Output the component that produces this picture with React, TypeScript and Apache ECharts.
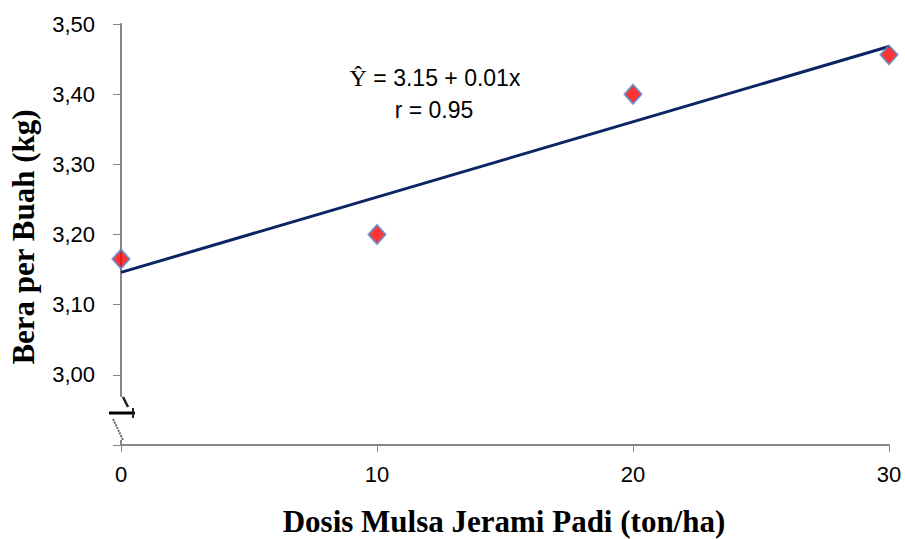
import React, { useEffect, useRef } from "react";
import * as echarts from "echarts";

const doses = [0, 10, 20, 30];
const weights = [3.165, 3.2, 3.4, 3.456];
const fitX = [0, 30];
const fitY = [3.146, 3.468];
const yTicks = [2.9, 3.0, 3.1, 3.2, 3.3, 3.4, 3.5];
const equationLines = ["= 3.15 + 0.01x", "r = 0.95"];
const xTitle = "Dosis Mulsa Jerami Padi (ton/ha)";
const yTitle = "Bera per Buah (kg)";

export default function App() {
  const ref = useRef<HTMLDivElement>(null);
  useEffect(() => {
    if (!ref.current) return;
    const chart = echarts.init(ref.current, undefined, { renderer: "svg" });
    const sans = "'Liberation Sans', Arial, sans-serif";
    const serif = "'Liberation Serif', 'Times New Roman', serif";
    chart.setOption({
      animation: false,
      backgroundColor: "#ffffff",
      grid: { left: 121, right: 16, top: 24, bottom: 94 },
      xAxis: {
        type: "value",
        min: 0,
        max: 30,
        interval: 10,
        axisLine: { lineStyle: { color: "#868686", width: 2 } },
        axisTick: { show: true, length: 7, lineStyle: { color: "#868686", width: 1 } },
        axisLabel: { color: "#000", fontFamily: sans, fontSize: 22, margin: 18 },
        splitLine: { show: false },
      },
      yAxis: {
        type: "value",
        min: yTicks[0],
        max: yTicks[yTicks.length - 1],
        interval: 0.1,
        axisLine: { show: true, lineStyle: { color: "#868686", width: 2 } },
        axisTick: { show: true, length: 8, lineStyle: { color: "#868686", width: 1 } },
        axisLabel: {
          color: "#000",
          fontFamily: sans,
          fontSize: 22,
          margin: 26,
          formatter: (v: number) => (v < 2.95 ? "" : v.toFixed(2).replace(".", ",")),
        },
        splitLine: { show: false },
      },
      series: [
        {
          type: "line",
          data: fitX.map((x, i) => [x, fitY[i]]),
          symbol: "none",
          lineStyle: { color: "#0b2463", width: 3 },
          z: 2,
        },
        {
          type: "scatter",
          data: doses.map((x, i) => [x, weights[i]]),
          symbol: "diamond",
          symbolSize: [17, 19],
          itemStyle: { color: "#ff0000", borderColor: "#5b87c6", borderWidth: 2 },
          z: 3,
        },
      ],
      graphic: [
        { type: "rect", shape: { x: 116, y: 397, width: 10, height: 43 }, style: { fill: "#fff" }, z: 100 },
        { type: "line", shape: { x1: 123, y1: 397, x2: 128, y2: 407 }, style: { stroke: "#222", lineWidth: 2.5 }, z: 101 },
        { type: "line", shape: { x1: 109, y1: 413, x2: 135, y2: 413 }, style: { stroke: "#000", lineWidth: 3 }, z: 101 },
        { type: "line", shape: { x1: 133, y1: 408, x2: 133, y2: 418 }, style: { stroke: "#222", lineWidth: 2 }, z: 101 },
        { type: "line", shape: { x1: 113, y1: 419, x2: 123, y2: 440 }, style: { stroke: "#666", lineWidth: 2, lineDash: [2, 1] }, z: 101 },
        {
          type: "text",
          x: 435,
          y: 78,
          style: {
            text: "{y|Ŷ} " + equationLines[0],
            fontFamily: sans,
            fontSize: 23,
            fill: "#000",
            align: "center",
            verticalAlign: "middle",
            rich: { y: { fontFamily: serif, fontSize: 24, fill: "#000" } },
          },
          z: 100,
        },
        {
          type: "text",
          x: 434,
          y: 110,
          style: { text: equationLines[1], fontFamily: sans, fontSize: 23, fill: "#000", align: "center", verticalAlign: "middle" },
          z: 100,
        },
        {
          type: "text",
          x: 504,
          y: 521,
          style: { text: xTitle, fontFamily: serif, fontWeight: "bold", fontSize: 31, fill: "#000", align: "center", verticalAlign: "middle" },
          z: 100,
        },
        {
          type: "text",
          x: 23,
          y: 237,
          rotation: Math.PI / 2,
          style: { text: yTitle, fontFamily: serif, fontWeight: "bold", fontSize: 31, fill: "#000", align: "center", verticalAlign: "middle" },
          z: 100,
        },
      ],
    });
    return () => chart.dispose();
  }, []);
  return <div ref={ref} style={{ width: 905, height: 539, position: "absolute", left: 0, top: 0 }} />;
}
